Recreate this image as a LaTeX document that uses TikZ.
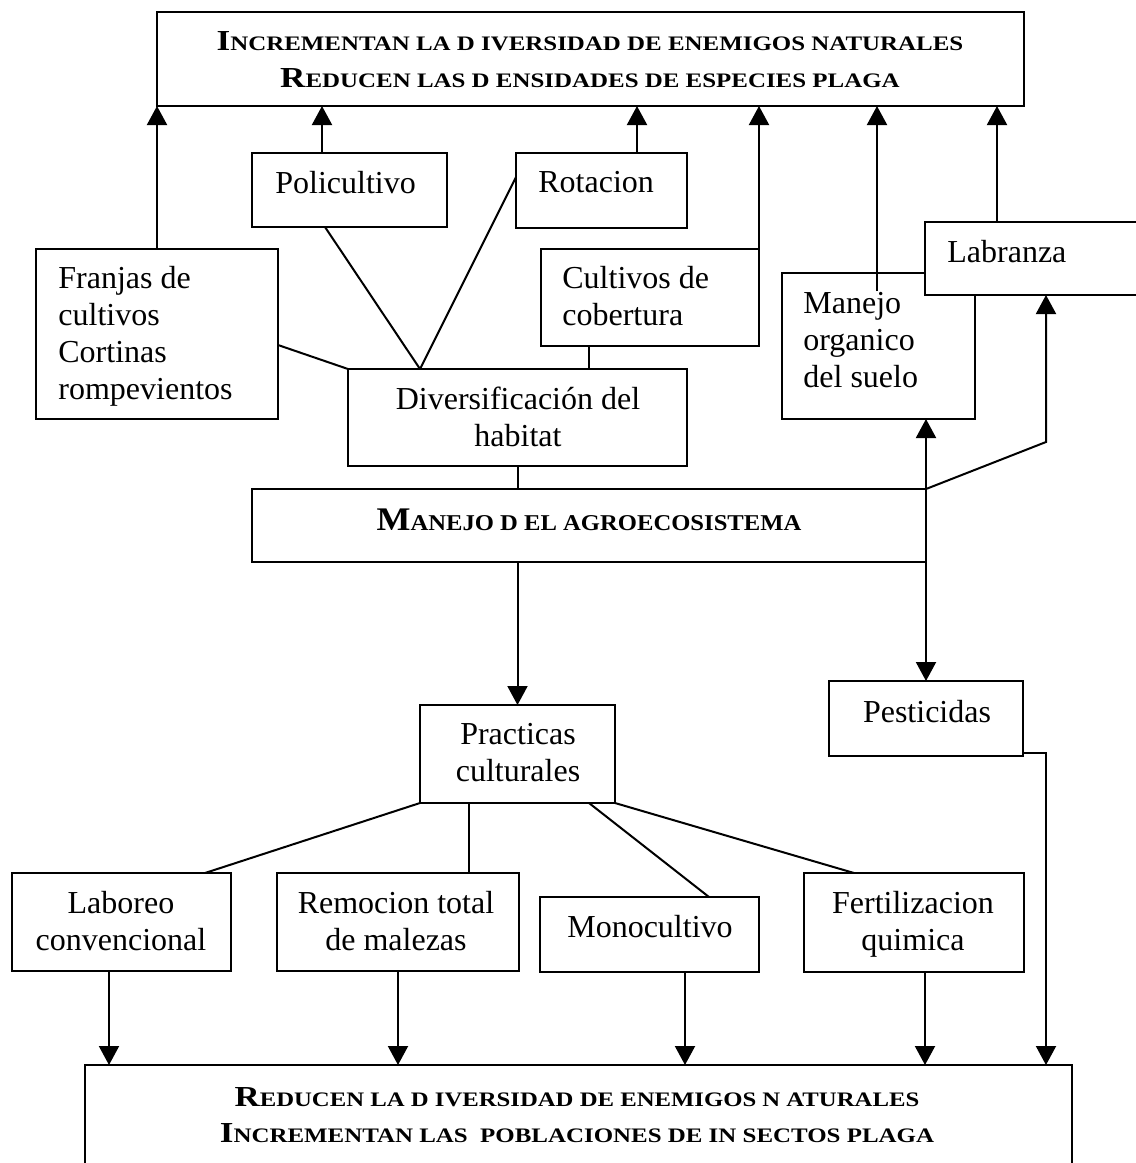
\documentclass[tikz,border=0pt]{standalone}
\usepackage{fontspec}
\usepackage{graphicx}
\setmainfont{Liberation Serif}
\usetikzlibrary{arrows.meta,calc}
\newcommand\capA[1]{{\fontsize{14.5pt}{17pt}\selectfont #1}}
\newcommand\capB[1]{{\fontsize{10.3pt}{12pt}\selectfont #1}}
\newcommand\capC[1]{{\fontsize{16.5pt}{19pt}\selectfont #1}}
\newcommand\capD[1]{{\fontsize{11.3pt}{13pt}\selectfont #1}}
\newcommand\bx[5]{\node[box,minimum width=#4*0.5pt,minimum height=#5*0.5pt] (#1) at (#2,#3) {};}
\begin{document}
\begin{tikzpicture}[x=0.5pt,y=-0.5pt,
 box/.style={draw,line width=1pt,fill=white,inner sep=0pt,outer sep=0pt,anchor=north west},
 lbl/.style={inner sep=0pt,font=\fontsize{16pt}{18.5pt}\selectfont},
 hdr/.style={inner sep=0pt,font=\bfseries,anchor=base},
 ln/.style={line width=1pt},
 arr/.style={line width=1pt,-{Triangle[length=9.5pt,width=10pt]}}]
\useasboundingbox (0,0) rectangle (1136,1163);
% boxes
\bx{top}{157}{12}{867}{94}
\bx{poli}{252}{153}{195}{74}
\bx{rot}{516}{153}{171}{75}
\bx{franjas}{36}{249}{242}{170}
\bx{cult}{541}{249}{218}{97}
\bx{divers}{348}{369}{339}{97}
\bx{manorg}{782}{273}{193}{146}
\bx{labr}{925}{222}{240}{73}
\bx{manejo}{252}{489}{674}{73}
\bx{pract}{420}{705}{195}{98}
\bx{pest}{829}{681}{194}{75}
\bx{labo}{12}{873}{219}{98}
\bx{remo}{277}{873}{242}{98}
\bx{mono}{540}{897}{219}{75}
\bx{fert}{804}{873}{220}{99}
\bx{bottom}{85}{1065}{987}{160}
% arrows to top box
\draw[arr] (franjas.north) -- (franjas.north |- top.south);
\draw[arr] ($(poli.north west)+(70,0)$) coordinate (a1) -- (a1 |- top.south);
\draw[arr] ($(rot.north west)+(121,0)$) coordinate (a2) -- (a2 |- top.south);
\draw[arr] (cult.north east) -- (cult.north east |- top.south);
\draw[arr] ($(manorg.north west)+(95,18)$) coordinate (a3) -- (a3 |- top.south);
\draw[arr] ($(labr.north west)+(72,0)$) coordinate (a4) -- (a4 |- top.south);
% habitat links
\draw[ln] ($(poli.south west)+(73,0)$) -- ($(divers.north west)+(72,0)$) coordinate (dv);
\draw[ln] ($(rot.north west)+(0,24)$) -- (dv);
\draw[ln] ($(cult.south west)+(48,0)$) coordinate (c1) -- (c1 |- divers.north);
\draw[ln] ($(franjas.north east)+(0,96)$) -- (divers.north west);
\draw[ln] (divers.south) -- (divers.south |- manejo.north);
% from manejo
\draw[arr] (pract.north |- manejo.south) -- (pract.north);
\draw[arr] (manejo.north east) -- (manejo.north east |- manorg.south);
\draw[arr] (manejo.north east) -- ++(120,-47) coordinate (bend) -- (bend |- labr.south);
\draw[arr] (pest.north |- manejo.south) -- (pest.north);
\draw[arr] ($(pest.south east)+(0,-3)$) -- ++(23,0) coordinate (p1) -- (p1 |- bottom.north);
% practicas links
\draw[ln] (pract.south west) -- ($(labo.north west)+(193,0)$);
\draw[ln] ($(pract.south west)+(49,0)$) coordinate (r1) -- (r1 |- remo.north);
\draw[ln] ($(pract.south west)+(169,0)$) -- ($(mono.north west)+(169,0)$);
\draw[ln] (pract.south east) -- ($(fert.north west)+(50,0)$);
\draw[arr] ($(labo.south west)+(97,0)$) coordinate (b1) -- (b1 |- bottom.north);
\draw[arr] (remo.south) -- (remo.south |- bottom.north);
\draw[arr] ($(mono.south west)+(145,0)$) coordinate (b3) -- (b3 |- bottom.north);
\draw[arr] ($(fert.south west)+(121,0)$) coordinate (b4) -- (b4 |- bottom.north);
% labels (base anchor = last line baseline)
\node[lbl,anchor=base west] (tpoli) at (275,193) {Policultivo};
\node[lbl,anchor=base west] (trot) at (538,192) {Rotacion};
\node[lbl,anchor=base west,align=left] (tfranjas) at (58,399) {Franjas de\\cultivos\\Cortinas\\rompevientos};
\node[lbl,anchor=base west,align=left] (tcult) at (562,325) {Cultivos de\\cobertura};
\node[lbl,anchor=base,align=center] (tdiv) at (518,446) {Diversificación del\\habitat};
\node[lbl,anchor=base west,align=left] (tmanorg) at (803,387) {Manejo\\organico\\del suelo};
\node[lbl,anchor=base west] (tlabr) at (947,262) {Labranza};
\node[lbl,anchor=base,align=center] (tpract) at (518,781) {Practicas\\culturales};
\node[lbl,anchor=base] (tpest) at (927,722) {Pesticidas};
\node[lbl,anchor=base,align=center] (tlabo) at (121,950) {Laboreo\\convencional};
\node[lbl,anchor=base,align=center] (tremo) at (396,950) {Remocion total\\de malezas};
\node[lbl,anchor=base] (tmono) at (650,937) {Monocultivo};
\node[lbl,anchor=base,align=center] (tfert) at (913,950) {Fertilizacion\\quimica};
% headers
\node[hdr] (h1) at (590,50) {\scalebox{1.21}[1]{\capA{I}\capB{NCREMENTAN LA D IVERSIDAD DE ENEMIGOS NATURALES}}};
\node[hdr] (h2) at (590,87) {\scalebox{1.21}[1]{\capA{R}\capB{EDUCEN LAS D ENSIDADES DE ESPECIES PLAGA}}};
\node[hdr] (h3) at (589,530) {\scalebox{1.09}[1]{\capC{M}\capD{ANEJO D EL AGROECOSISTEMA}}};
\node[hdr] (h4) at (577,1106) {\scalebox{1.2}[1]{\capA{R}\capB{EDUCEN LA D IVERSIDAD DE ENEMIGOS N ATURALES}}};
\node[hdr] (h5) at (577,1142) {\scalebox{1.21}[1]{\capA{I}\capB{NCREMENTAN LAS\ \ POBLACIONES DE IN SECTOS PLAGA}}};
\end{tikzpicture}
\end{document}
